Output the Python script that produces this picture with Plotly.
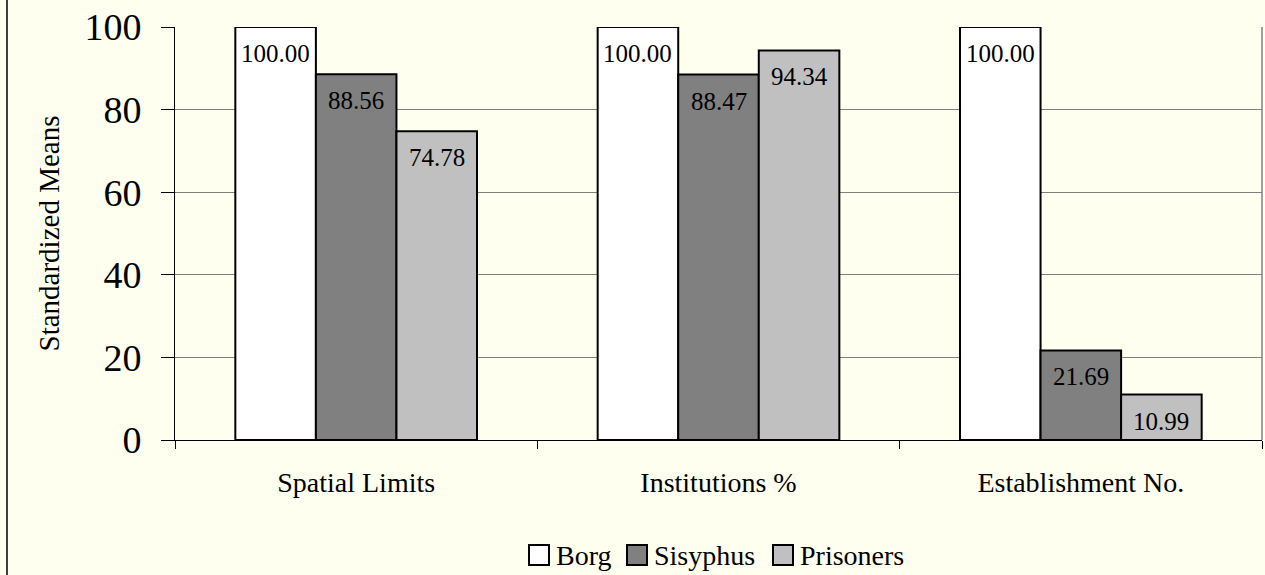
import plotly.graph_objects as go

categories = ["Spatial Limits", "Institutions %", "Establishment No."]
series_names = ["Borg", "Sisyphus", "Prisoners"]
borg = [100.00, 100.00, 100.00]
sisyphus = [88.56, 88.47, 21.69]
prisoners = [74.78, 94.34, 10.99]
y_ticks = [0, 20, 40, 60, 80, 100]

fills = ["#FFFFFF", "#808080", "#C0C0C0"]
serif = "Liberation Serif, Times New Roman, serif"
series = [borg, sisyphus, prisoners]

W, H = 1265, 575
ML, MR, MT, MB = 175, 3, 27, 135
PW, PH = W - ML - MR, H - MT - MB
BARGAP = 0.333
bar_w = (1 - BARGAP) / len(series)

fig = go.Figure()
for name, vals, col in zip(series_names, series, fills):
    fig.add_trace(go.Bar(
        name=name, x=categories, y=vals,
        marker=dict(color=col, line=dict(color="#000000", width=2)),
        showlegend=False,
    ))

# value labels just inside the top of each bar
for k, vals in enumerate(series):
    off = (k - (len(series) - 1) / 2) * bar_w
    for i, v in enumerate(vals):
        fig.add_annotation(
            x=i + off, y=v, xref="x", yref="y", text=f"{v:.2f}",
            showarrow=False, yanchor="top", yshift=-11,
            font=dict(family=serif, size=25, color="#000000"),
        )

fig.update_layout(
    width=W, height=H,
    barmode="group", bargap=BARGAP, bargroupgap=0,
    paper_bgcolor="#FFFFF0", plot_bgcolor="#FFFFF0",
    margin=dict(l=ML, r=MR, t=MT, b=MB),
    font=dict(family=serif, color="#000000"),
    showlegend=False,
    xaxis=dict(
        type="category", tickson="boundaries", ticks="outside", ticklen=8,
        tickcolor="#000000", tickwidth=1,
        showline=True, linecolor="#000000", linewidth=1,
        tickfont=dict(family=serif, size=28), showgrid=False,
        ticklabelstandoff=17,
    ),
    yaxis=dict(
        range=[0, 100], tickvals=y_ticks, ticks="outside", ticklen=13,
        tickcolor="#000000", showline=True, linecolor="#000000", linewidth=1,
        showgrid=True, gridcolor="#808080", gridwidth=1,
        tickfont=dict(family=serif, size=38), ticklabelstandoff=12,
        title=dict(text="Standardized Means", font=dict(family=serif, size=29), standoff=16),
        zeroline=False,
    ),
)

# plot-area frame on the right side
fig.add_shape(type="line", xref="paper", yref="paper", x0=1, x1=1, y0=0, y1=1,
              line=dict(color="#808080", width=1.5))
# outer chart border
fig.add_shape(type="rect", xref="paper", yref="paper",
              x0=-168 / PW, x1=1.01, y0=-0.6, y1=1.2,
              line=dict(color="#000000", width=1.5), layer="below")

# legend: swatch boxes with series names, in one centred row
legend_left = [529, 627, 773]
legend_cy = 555
box = 20
for name, col, lx in zip(series_names, fills, legend_left):
    fig.add_shape(
        type="rect", xref="paper", yref="paper",
        x0=(lx - ML) / PW, x1=(lx + box - ML) / PW,
        y0=(H - MB - (legend_cy + box / 2)) / PH, y1=(H - MB - (legend_cy - box / 2)) / PH,
        fillcolor=col, line=dict(color="#000000", width=2),
    )
    fig.add_annotation(
        x=(lx + box + 5 - ML) / PW, y=(H - MB - legend_cy) / PH,
        xref="paper", yref="paper", text=name, showarrow=False,
        xanchor="left", yanchor="middle",
        font=dict(family=serif, size=28, color="#000000"),
    )

fig.write_html("out.html")
